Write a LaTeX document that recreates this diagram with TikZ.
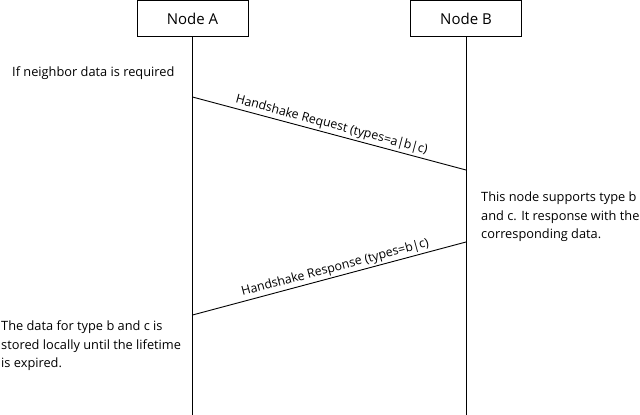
\documentclass[tikz,border=0pt]{standalone}
\usepackage{fontspec}
\setmainfont{Open Sans}
\usetikzlibrary{positioning}

\begin{document}
\begin{tikzpicture}[x=1pt,y=-1pt,
                    boxND/.style={draw,
                                  line width=0.9pt,
                                  minimum width=111pt,
                                  minimum height=36pt,
                                  font=\fontsize{15}{18}\selectfont},
                    noteND/.style={align=left,
                                   anchor=west,
                                   inner sep=0pt,
                                   font=\fontsize{12.8}{18.5}\selectfont},
                    msgND/.style={sloped,
                                  above,
                                  inner sep=2pt,
                                  font=\fontsize{12.4}{15}\selectfont},
                    lifeLN/.style={line width=0.9pt},
                    msgLN/.style={-, line width=0.9pt}]
            \useasboundingbox (0,0) rectangle (640,415);
            % the two nodes and their lifelines
            \node[boxND](A) at (192.5,18.5) {Node A};
            \node[boxND](B) at (466,18.5)   {Node B};
            \coordinate (Aend) at (192.5,415);
            \coordinate (Bend) at (466,415);
            \draw[lifeLN] (A) -- (Aend);
            \draw[lifeLN] (B) -- (Bend);
            % message end points
            \coordinate (A1) at (192.5,97);
            \coordinate (B1) at (466,170);
            \coordinate (B2) at (466,242);
            \coordinate (A2) at (192.5,315);
            \path
                (A1) edge [msgLN] node [msgND, pos=0.5]
                     {Handshake Request (types=a|b|c)} (B1)
                (B2) edge [msgLN] node [msgND, pos=0.47]
                     {Handshake Response (types=b|c)} (A2)
                ;
            % notes
            \node[noteND](n1) at (12,73)  {If neighbor data is required};
            \node[noteND](n2) at (481,217) {This node supports type b\\
                                             and c. It response with the\\
                                             corresponding data.};
            \node[noteND](n3) at (1,346)  {The data for type b and c is\\
                                            stored locally until the lifetime\\
                                            is expired.};
\end{tikzpicture}
\end{document}
